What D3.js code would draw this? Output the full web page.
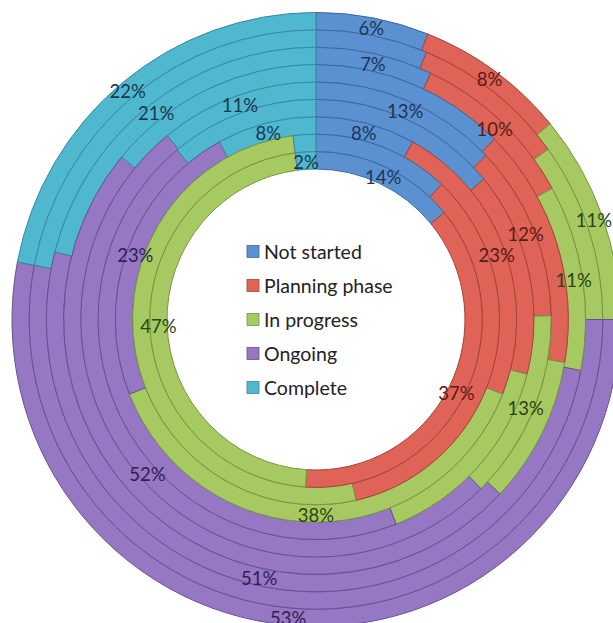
<!DOCTYPE html>
<html>
<head>
<meta charset="utf-8">
<script src="https://cdn.jsdelivr.net/npm/d3@7"></script>
<style>
  html, body { margin: 0; padding: 0; background: #ffffff; }
  svg { display: block; }
</style>
</head>
<body>
<svg id="chart" width="613" height="623"></svg>
<script>
// Status categories, in the order they run clockwise from 12 o'clock
const categories = ["Not started", "Planning phase", "In progress", "Ongoing", "Complete"];

// One array per ring, outermost first (percent of projects per status)
const ring1 = [6, 8, 11, 53, 22];
const ring2 = [6.3, 8.7, 10, 53, 22];
const ring3 = [7, 10, 11, 51, 21];
const ring4 = [12.5, 15.2, 9.3, 49, 14];
const ring5 = [13, 12, 13, 52, 11];
const ring6 = [14, 15, 15, 45, 11];
const ring7 = [8, 23, 38, 23, 8];
const ring8 = [12, 34.5, 51.5, 0, 2];
const ring9 = [14, 37, 47, 0, 2];

// Which rings carry value labels
const ringLabelled = [true, false, true, false, true, false, true, false, true];

const fills   = ["#5b91d1", "#df6357", "#a6ca61", "#9577c3", "#4fb8cf"];
const strokes = ["#3b68a0", "#a3443d", "#789541", "#68518f", "#37899e"];
const inks    = ["#1c3558", "#5a1b16", "#2c4412", "#2f2150", "#18384f"];

const rings = [ring1, ring2, ring3, ring4, ring5, ring6, ring7, ring8, ring9];

const svg = d3.select("#chart");
const cx = 316, cy = 319.5;
const outerR = 304, innerR = 149;
const squash = 1.01; // the plot is drawn very slightly taller than wide

// Radial bands, one per ring (ring 0 is the outermost)
const band = d3.scaleBand()
  .domain(d3.range(rings.length))
  .range([outerR, innerR])
  .paddingInner(0);

const color = d3.scaleOrdinal().domain(categories).range(fills);
const edge = d3.scaleOrdinal().domain(categories).range(strokes);
const ink = d3.scaleOrdinal().domain(categories).range(inks);

const pie = d3.pie()
  .sort(null)
  .value(d => d.value);

const g = svg.append("g").attr("transform", `translate(${cx},${cy}) scale(1,${squash})`);
const labelLayer = svg.append("g").attr("transform", `translate(${cx},${cy})`);

rings.forEach((values, i) => {
  const rInner = band(i);
  const rOuter = band(i) + band.bandwidth();
  const arc = d3.arc().innerRadius(rInner).outerRadius(rOuter);
  const data = pie(values.map((v, j) => ({ cat: categories[j], value: v })))
    .filter(d => d.data.value > 0);

  g.append("g").attr("class", "ring")
    .selectAll("path")
    .data(data)
    .join("path")
    .attr("d", arc)
    .attr("fill", d => color(d.data.cat))
    .attr("stroke", d => edge(d.data.cat))
    .attr("stroke-width", 1)
    .attr("vector-effect", "non-scaling-stroke");

  if (ringLabelled[i]) {
    labelLayer.append("g")
      .selectAll("text")
      .data(data)
      .join("text")
      .attr("transform", d => {
        const [x, y] = arc.centroid(d);
        return `translate(${x},${y * squash})`;
      })
      .attr("text-anchor", "middle")
      .attr("dy", "0.45em")
      .attr("font-family", "Lato, 'Open Sans', sans-serif")
      .attr("font-size", 18.5)
      .attr("fill", d => ink(d.data.cat))
      .text(d => d.data.value + "%");
  }
});

// Legend in the centre hole
const legend = svg.append("g").attr("transform", "translate(247,252)");
const rowStep = 34;
const item = legend.selectAll("g")
  .data(categories)
  .join("g")
  .attr("transform", (d, i) => `translate(0,${i * rowStep})`);

item.append("rect")
  .attr("x", 0).attr("y", -6.5)
  .attr("width", 12).attr("height", 12)
  .attr("fill", d => color(d))
  .attr("stroke", d => edge(d))
  .attr("stroke-width", 0.8);

item.append("text")
  .attr("x", 17)
  .attr("dy", "0.36em")
  .attr("font-family", "Lato, 'Open Sans', sans-serif")
  .attr("font-size", 19.5)
  .attr("fill", "#222222")
  .text(d => d);
</script>
</body>
</html>
